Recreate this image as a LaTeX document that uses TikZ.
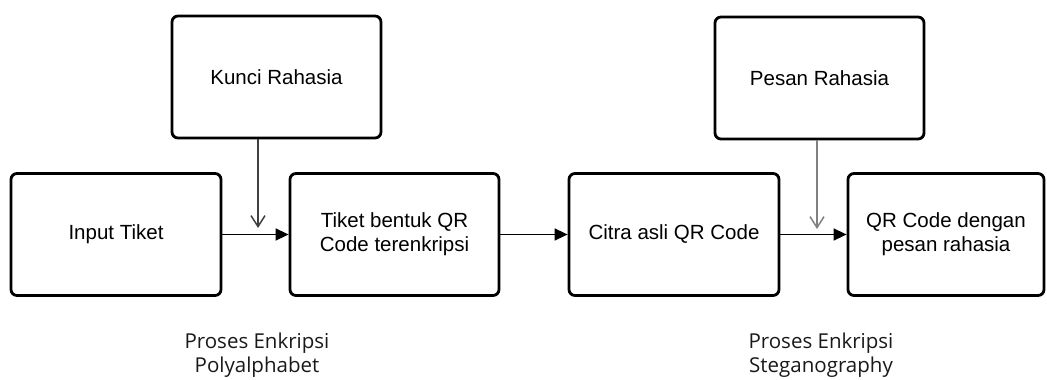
\documentclass[tikz,border=0pt]{standalone}
\usepackage{fontspec}
\setmainfont{Liberation Sans}
\newfontfamily\labelfont{Open Sans}
\usetikzlibrary{arrows.meta}
\begin{document}
\begin{tikzpicture}[x=1pt,y=-1pt,
  box/.style={draw=black, line width=2.8pt, rounded corners=6pt, minimum height=122pt, inner sep=0pt, align=center, font=\fontsize{20.5}{24}\selectfont, text=black},
  flow/.style={line width=1.5pt, -{Triangle[length=13pt,width=12pt]}},
  down/.style={line width=1.5pt, -{Straight Barb[length=11pt,width=14pt,line width=1.5pt]}},
  lbl/.style={align=center, font=\labelfont\fontsize{20.5}{24}\selectfont, text=black!90}]
\useasboundingbox (0,0) rectangle (1047,380);
\node[box, minimum width=209pt] (kunci) at (276.5,77) {Kunci Rahasia};
\node[box, minimum width=209pt] (pesan) at (819.5,78) {Pesan Rahasia};
\node[box, minimum width=210pt] (input) at (116,234.5) {Input Tiket};
\node[box, minimum width=209pt] (tiket) at (394.5,234.5) {Tiket bentuk QR\\Code terenkripsi};
\node[box, minimum width=210pt] (citra) at (674,234.5) {Citra asli QR Code};
\node[box, minimum width=196pt] (qr) at (946,234.5) {QR Code dengan\\pesan rahasia};
\coordinate (k1) at (258,228);
\coordinate (p1) at (817,229);
\draw[flow] (input) -- (tiket);
\draw[flow] (tiket) -- (citra);
\draw[flow] (citra) -- (qr);
\draw[down, draw=black!75] (kunci.south -| k1) -- (k1);
\draw[down, draw=black!50] (pesan.south -| p1) -- (p1);
\node[lbl] (l1) at (257,355) {Proses Enkripsi\\Polyalphabet};
\node[lbl] (l2) at (821,355) {Proses Enkripsi\\Steganography};
\end{tikzpicture}
\end{document}
